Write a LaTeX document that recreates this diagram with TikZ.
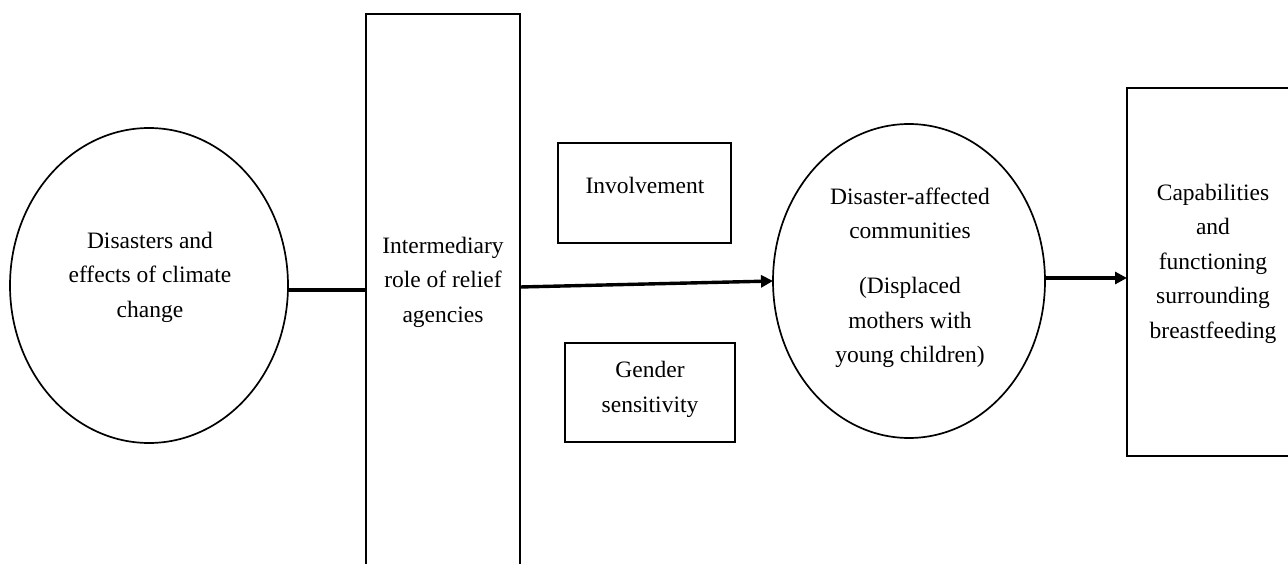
\documentclass[tikz,border=0pt]{standalone}
\usepackage{fontspec}
\setmainfont{Liberation Serif}
\usetikzlibrary{shapes.geometric,arrows.meta}
\begin{document}
\begin{tikzpicture}[x=1pt,y=-1pt,
  outl/.style={draw,line width=1.7pt,inner sep=0pt,outer sep=0pt},
  oval/.style={outl,ellipse},
  box/.style={outl,rectangle},
  txt/.style={align=center,font=\fontsize{23.5}{34.5}\selectfont,inner sep=0pt},
  conn/.style={line width=3.4pt},
  arr/.style={conn,-{Triangle[length=12pt,width=12pt]}}]
\useasboundingbox (0,0) rectangle (1288,564);
\clip (0,0) rectangle (1288,564);
% shapes
\node[oval,minimum width=278pt,minimum height=315pt] (e1) at (149,285.5) {};
\node[box,minimum width=154pt,minimum height=606pt] (tall) at (443,317) {};
\node[box,minimum width=173pt,minimum height=100pt] (inv) at (644.5,193) {};
\node[box,minimum width=170pt,minimum height=99pt] (gen) at (650,392.5) {};
\node[oval,minimum width=272pt,minimum height=314pt] (e2) at (909,281) {};
\node[box,minimum width=172pt,minimum height=368pt] (r2) at (1213,272) {};
% texts
\node[txt] (t1) at (150,277) {Disasters and\\effects of climate\\change};
\node[txt] (t2) at (443,282) {Intermediary\\role of relief\\agencies};
\node[txt] (t3) at (645,185) {Involvement};
\node[txt] (t4) at (650,389.5) {Gender\\sensitivity};
\node[txt] (t5) at (910,278) {Disaster-affected\\communities\\[20.5pt](Displaced\\mothers with\\young children)};
\node[txt] (t6) at (1213,263.5) {Capabilities\\and\\functioning\\surrounding\\breastfeeding};
% connectors
\coordinate (c1) at (e1.east |- 0,290);
\coordinate (a1) at (tall.east |- 0,287);
\coordinate (a2) at (e2.east |- 0,278);
\draw[conn] (c1) -- (c1 -| tall.west);
\draw[arr] (a1) -- (e2.west);
\draw[arr] (a2) -- (a2 -| r2.west);
\end{tikzpicture}
\end{document}
